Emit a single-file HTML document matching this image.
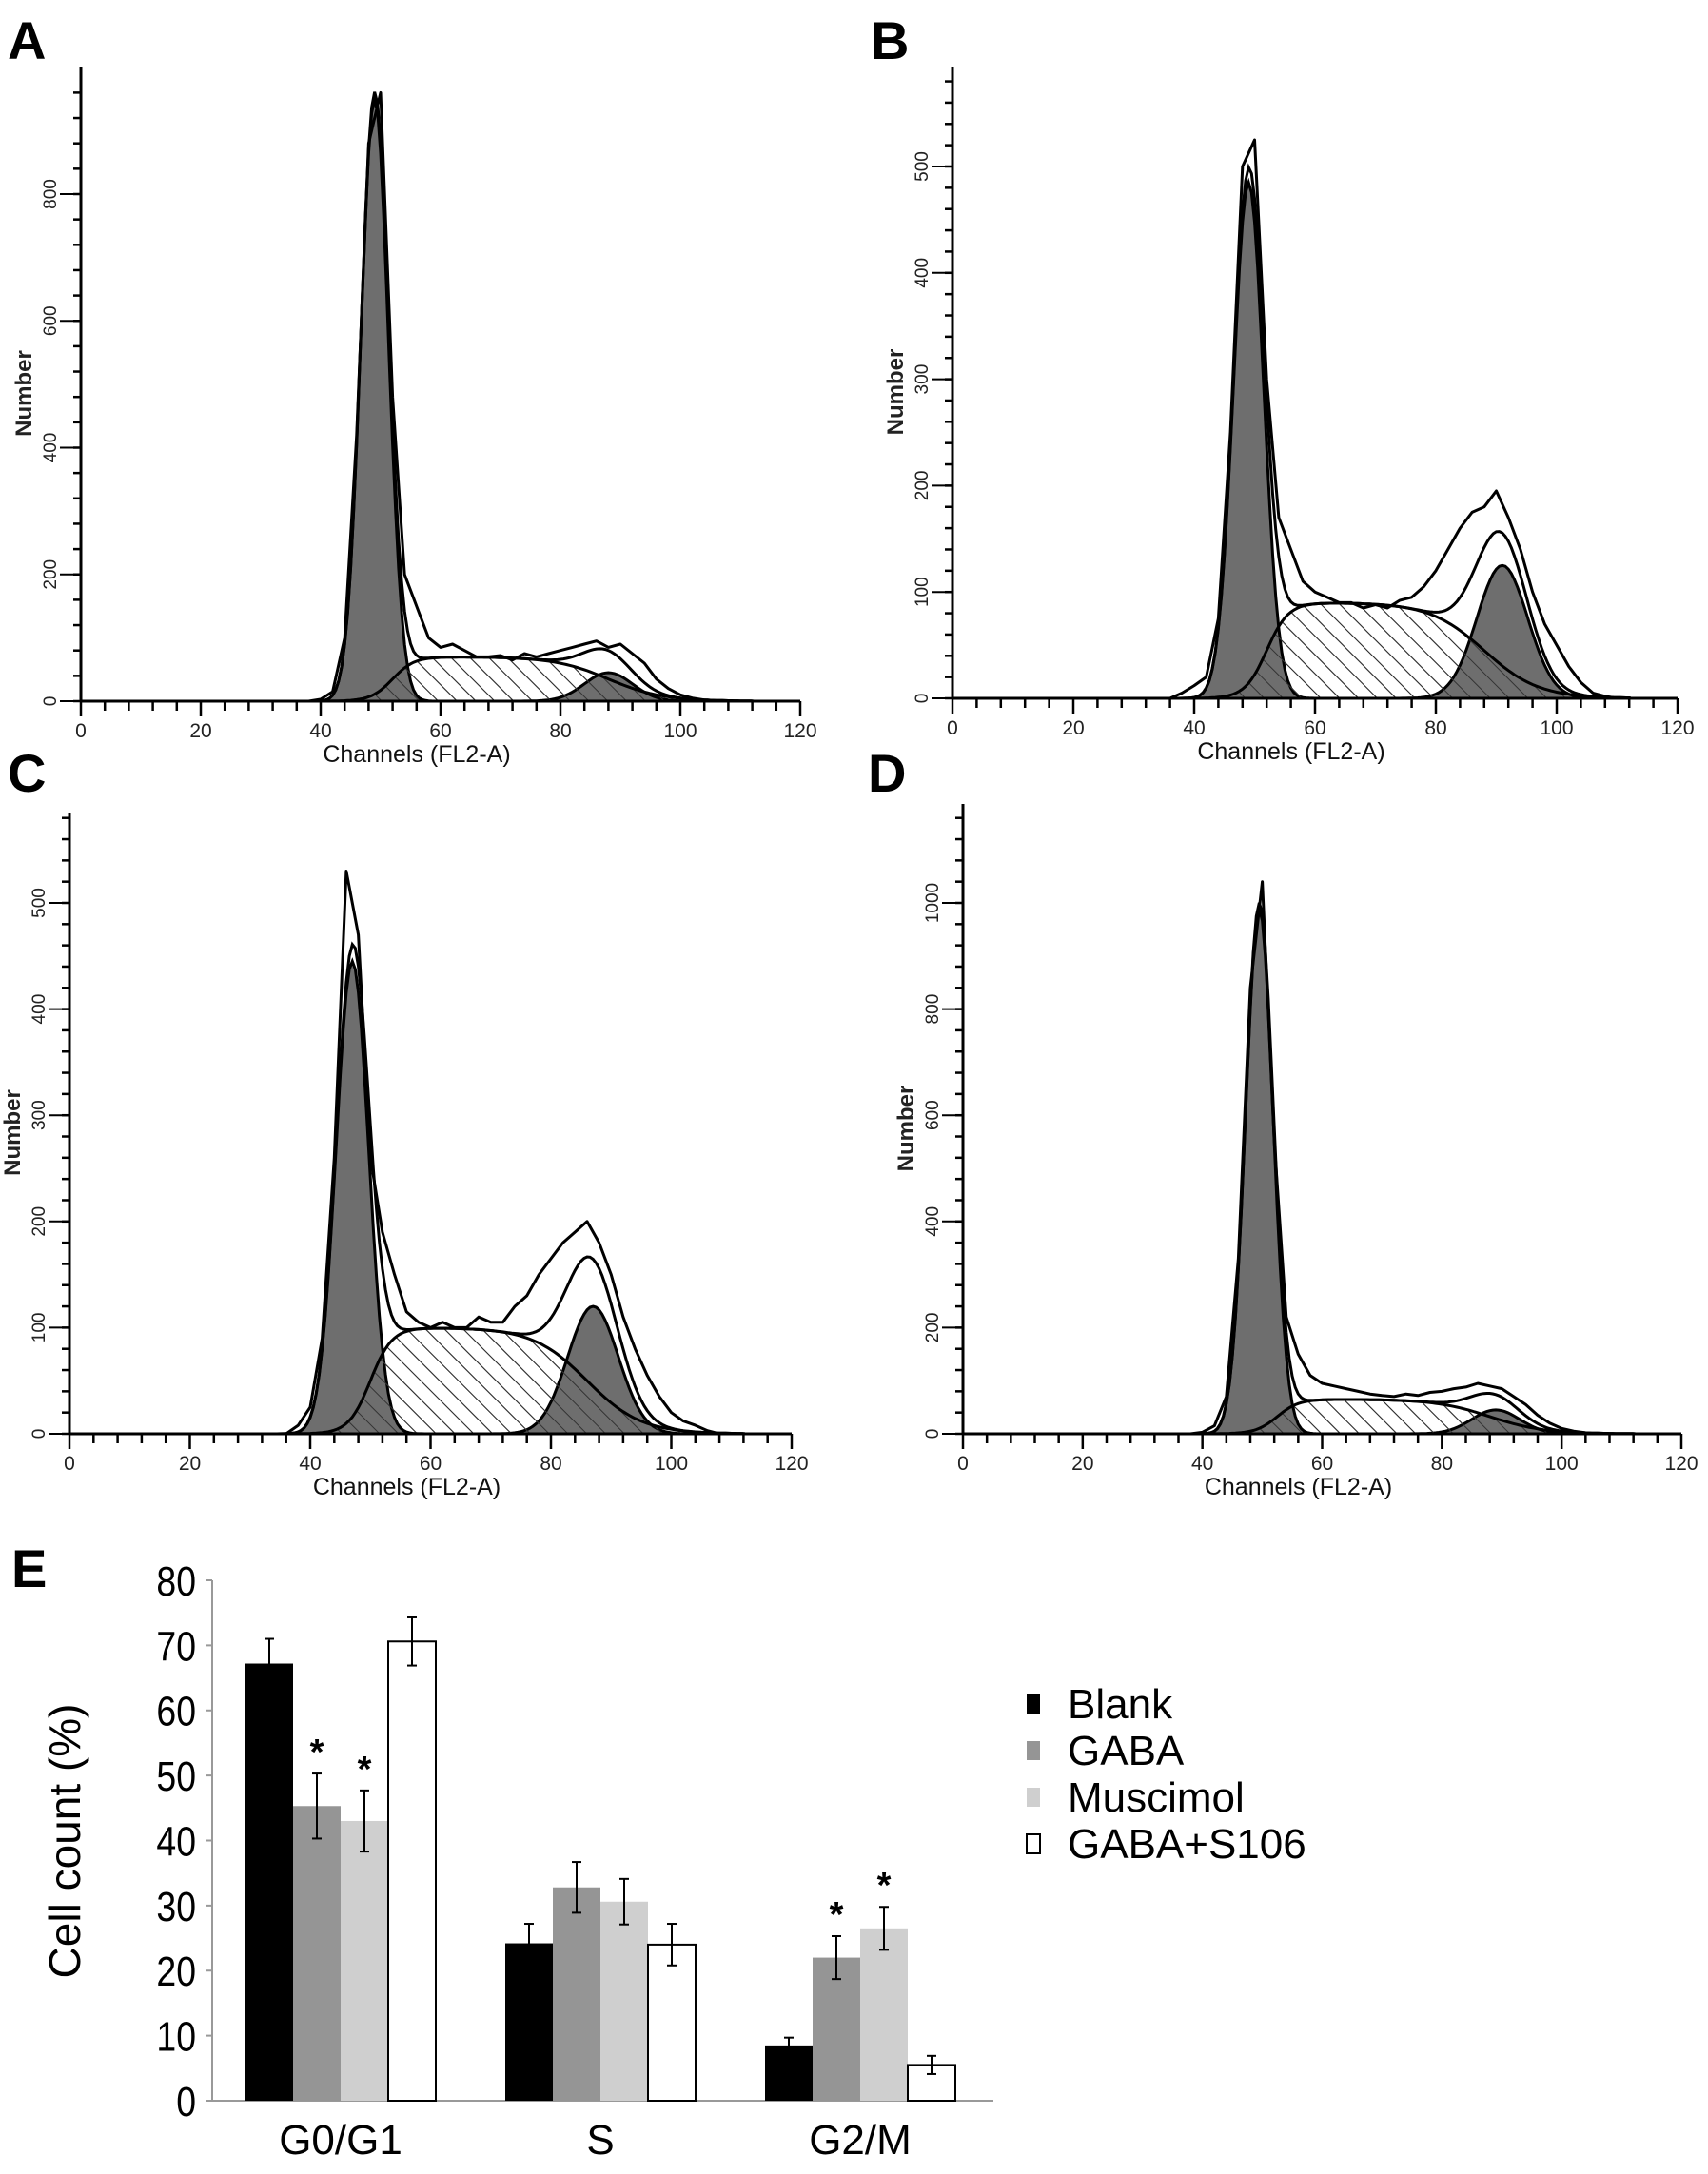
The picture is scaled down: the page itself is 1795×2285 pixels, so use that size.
<!DOCTYPE html>
<html><head><meta charset="utf-8"><style>
html,body{margin:0;padding:0;background:#fff}
svg{display:block}
text{font-family:"Liberation Sans",sans-serif}
</style></head><body>
<svg id="fig" width="1795" height="2285" viewBox="0 0 1795 2285" xmlns="http://www.w3.org/2000/svg">
<defs>
<pattern id="hatchW" patternUnits="userSpaceOnUse" width="14" height="14" patternTransform="rotate(-45)">
<rect width="14" height="14" fill="#fff"/><line x1="0" y1="0" x2="0" y2="14" stroke="#333" stroke-width="2"/></pattern>
<pattern id="hatchL" patternUnits="userSpaceOnUse" width="14" height="14" patternTransform="rotate(-45)">
<line x1="0" y1="0" x2="0" y2="14" stroke="#333" stroke-width="2"/></pattern>
</defs>
</svg>
<script>
// ---------- Histogram data (channel, count) ----------
const rawChannels = [36,38,40,42,44,46,48,50,52,54,56,58,60,62,64,66,68,70,72,74,76,78,80,82,84,86,88,90,92,94,96,98,100,102,104,106,108,110];
const rawA = [0,0,3,15,100,420,880,960,480,200,150,100,85,90,80,70,70,72,65,75,70,75,80,85,90,95,85,90,75,60,35,20,10,5,2,0,0,0];
const rawB = [0,5,12,20,75,250,500,525,300,170,140,110,100,95,90,90,85,88,85,92,95,105,120,140,160,175,180,195,170,140,100,70,50,30,15,5,2,0];
const rawC = [0,8,25,90,260,530,470,260,190,150,115,105,100,105,100,100,110,105,105,120,130,150,165,180,190,200,180,150,110,80,55,35,20,12,8,3,0,0];
const rawD = [0,0,3,15,70,330,840,1040,550,220,150,110,95,90,85,80,75,72,70,75,72,78,80,85,88,95,90,85,70,55,35,20,10,5,2,0,0,0];
// model parameters: G1 [mean, sd, height], S [level, start, end], G2 [mean, sd, height]
const g1Params = {A:[49,2.3,950], B:[49,2.5,485], C:[47,2.7,445], D:[49.5,2.3,990]};
const sParams  = {A:[70,50,82],  B:[90,51,82],  C:[100,50,80], D:[65,50,82]};
const g2Params = {A:[88,4,45],   B:[91,4.2,125], C:[87,4.2,120], D:[89,4,45]};
const yTicksA = [0,200,400,600,800], yTicksB=[0,100,200,300,400,500], yTicksC=[0,100,200,300,400,500], yTicksD=[0,200,400,600,800,1000];
const xTickLabels = [0,20,40,60,80,100,120];

// ---------- Bar chart data ----------
const phases = ["G0/G1","S","G2/M"];
const groups = ["Blank","GABA","Muscimol","GABA+S106"];
const blankVals = [67.2,24.2,8.5], blankErr=[3.8,3.0,1.2];
const gabaVals = [45.3,32.8,22.0], gabaErr=[5.0,3.9,3.3];
const muscVals = [43.0,30.6,26.5], muscErr=[4.7,3.5,3.3];
const s106Vals = [70.6,24.0,5.5], s106Err=[3.7,3.2,1.4];
const starred = [[1,0],[2,0],[1,2],[2,2]]; // [group, phase]
const yTicksE = [0,10,20,30,40,50,60,70,80];

const NS="http://www.w3.org/2000/svg";
const svg=document.getElementById('fig');
function mk(tag,attrs,parent){const e=document.createElementNS(NS,tag);for(const k in attrs)e.setAttribute(k,attrs[k]);(parent||svg).appendChild(e);return e;}

function gauss(x,p){return p[2]*Math.exp(-0.5*((x-p[0])/p[1])**2);}
function sFun(x,s,g1,g2){const up=1/(1+Math.exp(-(x-(g1[0]+3))/1.8));const dn=1/(1+Math.exp((x-(s[2]+6))/4.5));return s[0]*up*dn;}

const panels=[
 {id:'A',lx:8,ly:62,x0:85,x1:841,base:737,top:70,ymax:800,ypx:204,ticks:yTicksA,minor:40,raw:rawA},
 {id:'B',lx:915,ly:62,x0:1001,x1:1763,base:734,top:70,ymax:500,ypx:175,ticks:yTicksB,minor:20,raw:rawB},
 {id:'C',lx:8,ly:832,x0:73,x1:832,base:1507,top:854,ymax:500,ypx:949,ticks:yTicksC,minor:20,raw:rawC},
 {id:'D',lx:912,ly:832,x0:1012,x1:1767,base:1507,top:845,ymax:1000,ypx:949,ticks:yTicksD,minor:40,raw:rawD}
];
panels.forEach(P=>{
 const g=mk('g',{});
 
 
 const X=c=>P.x0+(P.x1-P.x0)*c/120;
 const Y=v=>P.base-(P.base-P.ypx)*v/P.ymax;
 const G1=g1Params[P.id],S=sParams[P.id],G2=g2Params[P.id];
 const xs=[];for(let c=34;c<=112;c+=0.5)xs.push(c);
 const area=f=>'M'+X(xs[0])+','+P.base+' '+xs.map(c=>'L'+X(c).toFixed(1)+','+Y(f(c)).toFixed(1)).join(' ')+' L'+X(xs[xs.length-1])+','+P.base+'Z';
 const line=f=>'M'+xs.map(c=>X(c).toFixed(1)+','+Y(f(c)).toFixed(1)).join(' L');
 const sf=c=>sFun(c,S,G1,G2);
 let e=mk('path',{d:area(sf),fill:'url(#hatchW)'},g);
 e=mk('path',{d:area(c=>gauss(c,G1)),fill:'#6e6e6e',stroke:'#000','stroke-width':3},g);
 e=mk('path',{d:area(c=>gauss(c,G2)),fill:'#6e6e6e',stroke:'#000','stroke-width':3},g);
 e=mk('path',{d:area(sf),fill:'url(#hatchL)',stroke:'#000','stroke-width':3},g);
 e=mk('path',{d:line(c=>gauss(c,G1)+gauss(c,G2)+sf(c)),fill:'none',stroke:'#000','stroke-width':3},g);
 const rd='M'+rawChannels.map((c,i)=>X(c).toFixed(1)+','+Y(P.raw[i]).toFixed(1)).join(' L');
 e=mk('path',{d:rd,fill:'none',stroke:'#000','stroke-width':3,'stroke-linejoin':'round'},g);
 mk('line',{x1:P.x0,y1:P.top,x2:P.x0,y2:P.base+1,stroke:'#000','stroke-width':3},g);
 mk('line',{x1:P.x0,y1:P.base,x2:P.x1,y2:P.base,stroke:'#000','stroke-width':3},g);
 for(let c=0;c<=120;c+=4){const maj=c%20===0;mk('line',{x1:X(c),y1:P.base,x2:X(c),y2:P.base+(maj?16:10),stroke:'#000','stroke-width':2.5},g);}
 xTickLabels.forEach(v=>{const t=mk('text',{x:X(v),y:P.base+38,'font-size':21,'text-anchor':'middle',fill:'#222'},g);t.textContent=v;});
 for(let v=0;Y(v)>=P.top+5;v+=P.minor){mk('line',{x1:P.x0-8,y1:Y(v),x2:P.x0,y2:Y(v),stroke:'#000','stroke-width':2.5},g);}
 P.ticks.forEach(v=>{mk('line',{x1:P.x0-22,y1:Y(v),x2:P.x0,y2:Y(v),stroke:'#000','stroke-width':2},g);
  const t=mk('text',{x:0,y:0,'font-size':19,'text-anchor':'middle',fill:'#222',transform:`translate(${P.x0-26},${Y(v)}) rotate(-90)`},g);t.textContent=v;});
 let t=mk('text',{x:(X(0)+X(120))/2-25,y:P.base+64,'font-size':25,'text-anchor':'middle',fill:'#111'},g);t.textContent='Channels  (FL2-A)';
 t=mk('text',{x:0,y:0,'font-size':24,'font-weight':'bold','text-anchor':'middle',fill:'#222',transform:`translate(${P.x0-52},${(P.top+P.base)/2+10}) rotate(-90)`},g);t.textContent='Number';
 t=mk('text',{x:P.lx,y:P.ly,'font-size':56,'font-weight':'bold',fill:'#000'},g);t.textContent=P.id;
});

// ---------- Panel E ----------
(function(){
 const g=mk('g',{});
 
 
 const ax=223,y0=2208,y80=1661,bw=50,gstart=258,gstep=273,axEnd=1044;
 const Y=v=>y0-(y0-y80)*v/80;
 const fills=['#000','#959595','#cfcfcf','#fff'];
 const vals=[blankVals,gabaVals,muscVals,s106Vals],errs=[blankErr,gabaErr,muscErr,s106Err];
 mk('line',{x1:ax,y1:y80,x2:ax,y2:y0,stroke:'#999','stroke-width':2},g);
 mk('line',{x1:ax,y1:y0,x2:axEnd,y2:y0,stroke:'#999','stroke-width':2},g);
 yTicksE.forEach(v=>{mk('line',{x1:ax-6,y1:Y(v),x2:ax,y2:Y(v),stroke:'#999','stroke-width':2},g);
  const t=mk('text',{x:ax-17,y:Y(v)+16,'font-size':44,'text-anchor':'end',fill:'#000',transform:`translate(${ax-17},0) scale(0.85,1) translate(${-(ax-17)},0)`},g);t.textContent=v;});
 phases.forEach((p,pi)=>{
  const gx=gstart+pi*gstep;
  vals.forEach((arr,gi)=>{
   const x=gx+gi*bw,v=arr[pi],er=errs[gi][pi];
   const r=mk('rect',{x:x,y:Y(v),width:bw,height:y0-Y(v),fill:fills[gi],stroke:'#000','stroke-width':gi===3?2:0},g);
   
   
   const cx=x+bw/2;
   mk('line',{x1:cx,y1:Y(v+er),x2:cx,y2:Y(v-er),stroke:'#000','stroke-width':2},g);
   mk('line',{x1:cx-5,y1:Y(v+er),x2:cx+5,y2:Y(v+er),stroke:'#000','stroke-width':2},g);
   mk('line',{x1:cx-5,y1:Y(v-er),x2:cx+5,y2:Y(v-er),stroke:'#000','stroke-width':2},g);
  });
  const t=mk('text',{x:gx+2*bw,y:2264,'font-size':44,'text-anchor':'middle',fill:'#000'},g);t.textContent=p;
 });
 starred.forEach(s=>{const gi=s[0],pi=s[1];const cx=gstart+pi*gstep+gi*bw+bw/2;const v=vals[gi][pi]+errs[gi][pi];
  const t=mk('text',{x:cx,y:Y(v)-10,'font-size':38,'font-weight':'bold','text-anchor':'middle',fill:'#000'},g);t.textContent='*';});
 let t=mk('text',{x:0,y:0,'font-size':46,'text-anchor':'middle',fill:'#000',transform:'translate(84,1935) rotate(-90)'},g);t.textContent='Cell count (%)';
 t=mk('text',{x:12,y:1668,'font-size':56,'font-weight':'bold',fill:'#000'},g);t.textContent='E';
 groups.forEach((n,i)=>{const ly=1790+i*49;
  const r=mk('rect',{x:1079,y:ly-9,width:14,height:20,fill:fills[i],stroke:i===3?'#000':'none','stroke-width':2},g);
  const tt=mk('text',{x:1122,y:ly+16,'font-size':44,fill:'#000'},g);tt.textContent=n;});
})();
</script>
</body></html>
